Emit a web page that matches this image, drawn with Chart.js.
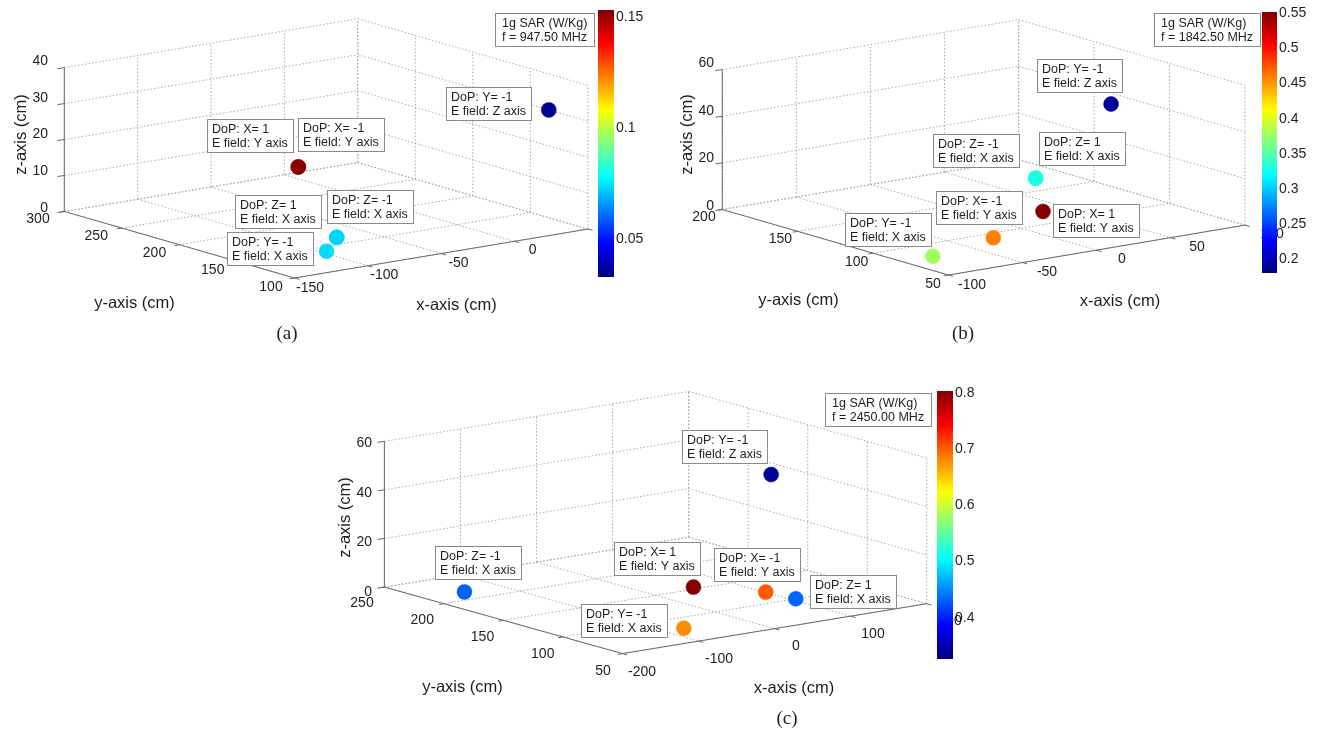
<!DOCTYPE html>
<html>
<head>
<meta charset="utf-8">
<script src="https://cdn.jsdelivr.net/npm/chart.js@4"></script>
<style>
  html, body { margin: 0; padding: 0; background: #fff; }
  #wrap { position: relative; width: 1325px; height: 733px; overflow: hidden; }
  #main { position: absolute; left: 0; top: 0; }
  .cbar { position: absolute; }
</style>
</head>
<body>
<div id="wrap">
  <canvas id="main" width="1325" height="733"></canvas>
  <canvas id="cbarA" class="cbar"></canvas>
  <canvas id="cbarB" class="cbar"></canvas>
  <canvas id="cbarC" class="cbar"></canvas>
</div>
<script>
// (a) f = 947.50 MHz
const tipsA = ['DoP: X= 1', 'DoP: X= -1', 'DoP: Y= -1', 'DoP: Z= 1', 'DoP: Z= -1', 'DoP: Y= -1'];
const fieldA = ['Y', 'Y', 'Z', 'X', 'X', 'X'];
const xA = [-36, -36, 50, -71, -71, -96];
const yA = [242, 242, 134, 164, 164, 141];
const zA = [10, 10, 30, 0, 0, 0];
const sarA = [0.150, 0.152, 0.035, 0.073, 0.073, 0.074];
const xTicksA = [-150, -100, -50, 0, 50];
const yTicksA = [100, 150, 200, 250, 300];
const zTicksA = [0, 10, 20, 30, 40];
const cTicksA = [0.05, 0.1, 0.15];
const cRangeA = [0.033, 0.153];

// (b) f = 1842.50 MHz
const tipsB = ['DoP: Y= -1', 'DoP: Z= -1', 'DoP: Z= 1', 'DoP: X= -1', 'DoP: X= 1', 'DoP: Y= -1'];
const fieldB = ['Z', 'X', 'X', 'Y', 'Y', 'X'];
const xB = [84, 80, 80, -26, 34, -79];
const yB = [123, 169, 169, 93, 119, 81];
const zB = [40, 0, 0, 0, 0, 0];
const sarB = [0.19, 0.329, 0.329, 0.459, 0.55, 0.378];
const xTicksB = [-100, -50, 0, 50, 100];
const yTicksB = [50, 100, 150, 200];
const zTicksB = [0, 20, 40, 60];
const cTicksB = [0.2, 0.25, 0.3, 0.35, 0.4, 0.45, 0.5, 0.55];
const cRangeB = [0.18, 0.552];

// (c) f = 2450.00 MHz
const tipsC = ['DoP: Y= -1', 'DoP: Z= -1', 'DoP: X= 1', 'DoP: X= -1', 'DoP: Z= 1', 'DoP: Y= -1'];
const fieldC = ['Z', 'X', 'Y', 'Y', 'X', 'X'];
const xC = [166, -148, 56, 101, 106, -74];
const yC = [159, 216, 154, 122, 100, 79];
const zC = [40, 0, 0, 0, 0, 0];
const sarC = [0.34, 0.432, 0.80, 0.702, 0.433, 0.678];
const xTicksC = [-200, -100, 0, 100, 200];
const yTicksC = [50, 100, 150, 200, 250];
const zTicksC = [0, 20, 40, 60];
const cTicksC = [0.4, 0.5, 0.6, 0.7, 0.8];
const cRangeC = [0.327, 0.803];

const freqs = ['947.50', '1842.50', '2450.00'];
const captions = ['(a)', '(b)', '(c)'];

const FONT = 'Arial, "Liberation Sans", Helvetica, sans-serif';

// view of each 3D box on the page: origin = (xmin, ymax, 0), ex/ey/ez = edge vectors
const views = [
  { o: [57, 208], ex: [297, -50], ey: [233, 68], ez: [0, -147],
    tipOff: [[-91, -48], [0, -49], [-103, -23], [-102, -42], [-10, -47], [-100, -19]],
    sarBox: [495, 13], caption: [287, 334], cbar: [598, 10, 16, 267] },
  { o: [723, 206], ex: [300, -51], ey: [229, 67], ez: [0, -143],
    tipOff: [[-74, -45], [-103, -44], [3, -46], [-57, -47], [10, -7], [-88, -43]],
    sarBox: [1154, 13], caption: [963, 334], cbar: [1262, 12, 15, 261] },
  { o: [381, 592], ex: [308, -51], ey: [241, 68], ez: [0, -149],
    tipOff: [[-89, -45], [-29, -46], [-79, -45], [-52, -44], [14, -24], [-103, -24]],
    sarBox: [825, 393], caption: [787, 719], cbar: [937, 391, 16, 268] }
];

const panels = [
  { tips: tipsA, fields: fieldA, xs: xA, ys: yA, zs: zA, sar: sarA, xt: xTicksA, yt: yTicksA, zt: zTicksA, ct: cTicksA, cr: cRangeA },
  { tips: tipsB, fields: fieldB, xs: xB, ys: yB, zs: zB, sar: sarB, xt: xTicksB, yt: yTicksB, zt: zTicksB, ct: cTicksB, cr: cRangeB },
  { tips: tipsC, fields: fieldC, xs: xC, ys: yC, zs: zC, sar: sarC, xt: xTicksC, yt: yTicksC, zt: zTicksC, ct: cTicksC, cr: cRangeC }
];

function jet(t) {
  t = Math.max(0, Math.min(1, t));
  const c = (v) => Math.round(255 * Math.max(0, Math.min(1, 1.5 - Math.abs(4 * t - v))));
  return `rgb(${c(3)},${c(2)},${c(1)})`;
}

function lims(t) {
  return [Math.min(...t), Math.max(...t)];
}

function unit(v) {
  const l = Math.hypot(v[0], v[1]);
  return [v[0] / l, v[1] / l];
}

function makeProj(p, v) {
  const xr = lims(p.xt), yr = lims(p.yt), zr = lims(p.zt);
  return (x, y, z) => {
    const a = (x - xr[0]) / (xr[1] - xr[0]);
    const b = (yr[1] - y) / (yr[1] - yr[0]);
    const c = (z - zr[0]) / (zr[1] - zr[0]);
    return {
      x: v.o[0] + a * v.ex[0] + b * v.ey[0] + c * v.ez[0],
      y: v.o[1] + a * v.ex[1] + b * v.ey[1] + c * v.ez[1]
    };
  };
}

// dotted grid on the back wall, right wall and floor
function gridSegs(p, P) {
  const [x0, x1] = lims(p.xt), [y0, y1] = lims(p.yt), [z0, z1] = lims(p.zt);
  const segs = [];
  p.xt.forEach(x => {
    segs.push([P(x, y1, z0), P(x, y1, z1)]);
    segs.push([P(x, y1, z0), P(x, y0, z0)]);
  });
  p.yt.forEach(y => {
    segs.push([P(x1, y, z0), P(x1, y, z1)]);
    segs.push([P(x0, y, z0), P(x1, y, z0)]);
  });
  p.zt.forEach(z => {
    segs.push([P(x0, y1, z), P(x1, y1, z)]);
    segs.push([P(x1, y1, z), P(x1, y0, z)]);
  });
  return segs;
}

// solid x, y, z axes with outward tick marks
function axisSegs(p, P, v) {
  const [x0, x1] = lims(p.xt), [y0, y1] = lims(p.yt), [z0, z1] = lims(p.zt);
  const segs = [
    [P(x0, y1, z0), P(x0, y0, z0)],
    [P(x0, y0, z0), P(x1, y0, z0)],
    [P(x0, y1, z0), P(x0, y1, z1)]
  ];
  const ux = unit(v.ex), uy = unit(v.ey);
  p.zt.forEach(z => { const a = P(x0, y1, z); segs.push([a, { x: a.x - 7, y: a.y + 1 }]); });
  p.yt.forEach(y => { const a = P(x0, y, z0); segs.push([a, { x: a.x - 5 * ux[0], y: a.y - 5 * ux[1] }]); });
  p.xt.forEach(x => { const a = P(x, y0, z0); segs.push([a, { x: a.x + 5 * uy[0], y: a.y + 5 * uy[1] }]); });
  return segs;
}

function flatten(segs) {
  const out = [];
  segs.forEach(s => { out.push(s[0], s[1], { x: null, y: null }); });
  return out;
}

function drawBox(ctx, x, y, lines, pad) {
  ctx.font = `12.5px ${FONT}`;
  const w = Math.round(Math.max(...lines.map(s => ctx.measureText(s).width)) + 2 * pad);
  const h = 33;
  x = Math.round(x); y = Math.round(y);
  ctx.fillStyle = '#fff';
  ctx.fillRect(x, y, w, h);
  ctx.strokeStyle = '#8a8a8a';
  ctx.lineWidth = 1;
  ctx.strokeRect(x + 0.5, y + 0.5, w, h);
  ctx.fillStyle = '#1e1e1e';
  ctx.textAlign = 'left';
  ctx.textBaseline = 'alphabetic';
  lines.forEach((s, i) => ctx.fillText(s, x + pad, y + 14 + i * 14));
}

const datasets = [];
panels.forEach((p, k) => {
  const v = views[k];
  const P = makeProj(p, v);
  p.P = P;
  datasets.push({
    data: flatten(gridSegs(p, P)), showLine: true, borderColor: '#a8a8a8',
    borderWidth: 1, borderDash: [1.5, 2], pointRadius: 0, order: 3
  });
  datasets.push({
    data: flatten(axisSegs(p, P, v)), showLine: true, borderColor: '#6a6a6a',
    borderWidth: 1, pointRadius: 0, order: 2
  });
  const cols = p.sar.map(s => jet((s - p.cr[0]) / (p.cr[1] - p.cr[0])));
  p.dsIndex = datasets.length;
  datasets.push({
    data: p.xs.map((x, j) => P(x, p.ys[j], p.zs[j])),
    pointRadius: 7.5, pointBackgroundColor: cols, pointBorderColor: cols,
    pointBorderWidth: 0.5, showLine: false, order: 1
  });
});

const annotPlugin = {
  id: 'annot',
  afterDatasetsDraw(chart) {
    const ctx = chart.ctx;
    ctx.save();
    panels.forEach((p, k) => {
      const v = views[k], P = p.P;
      const [x0, x1] = lims(p.xt), [y0, y1] = lims(p.yt), [z0, z1] = lims(p.zt);

      // tick labels
      ctx.font = `14px ${FONT}`;
      ctx.fillStyle = '#1e1e1e';
      ctx.textBaseline = 'middle';
      ctx.textAlign = 'right';
      p.zt.forEach(z => { const a = P(x0, y1, z); ctx.fillText(String(z), a.x - 9, a.y); });
      ctx.textAlign = 'center';
      p.yt.forEach(y => { const a = P(x0, y, z0); ctx.fillText(String(y), a.x - 19, a.y + 11); });
      p.xt.forEach(x => { const a = P(x, y0, z0); ctx.fillText(String(x), a.x + 20, a.y + 12); });

      // axis titles
      ctx.font = `16.5px ${FONT}`;
      const ym = P(x0, (y0 + y1) / 2, z0);
      ctx.fillText('y-axis (cm)', ym.x - 39, ym.y + 61);
      const xm = P((x0 + x1) / 2, y0, z0);
      ctx.fillText('x-axis (cm)', xm.x + 18, xm.y + 54);
      const zm = P(x0, y1, (z0 + z1) / 2);
      ctx.save();
      ctx.translate(zm.x - 36, zm.y);
      ctx.rotate(-Math.PI / 2);
      ctx.fillText('z-axis (cm)', 0, 0);
      ctx.restore();

      // caption
      ctx.font = `19px "Liberation Serif", "Times New Roman", serif`;
      ctx.fillText(captions[k], v.caption[0], v.caption[1]);

      // data tips
      const meta = chart.getDatasetMeta(p.dsIndex);
      p.tips.forEach((t, j) => {
        const pt = meta.data[j];
        drawBox(ctx, pt.x + v.tipOff[j][0], pt.y + v.tipOff[j][1], [t, `E field: ${p.fields[j]} axis`], 5);
      });

      // SAR legend box
      drawBox(ctx, v.sarBox[0], v.sarBox[1], ['1g SAR (W/Kg)', `f = ${freqs[k]} MHz`], 7);
    });
    ctx.restore();
  }
};

new Chart(document.getElementById('main'), {
  type: 'scatter',
  data: { datasets },
  options: {
    responsive: false,
    animation: false,
    events: [],
    layout: { padding: 0 },
    plugins: { legend: { display: false }, tooltip: { enabled: false } },
    scales: {
      x: { type: 'linear', min: 0, max: 1325, display: false },
      y: { type: 'linear', min: 0, max: 733, reverse: true, display: false }
    }
  },
  plugins: [annotPlugin]
});

function jetGradient(chart) {
  const a = chart.chartArea;
  if (!a) return '#000080';
  const g = chart.ctx.createLinearGradient(0, a.bottom, 0, a.top);
  for (let i = 0; i <= 32; i++) g.addColorStop(i / 32, jet(i / 32));
  return g;
}

function makeColorbar(id, p, v) {
  const [bx, by, bw, bh] = v.cbar;
  const padV = 12, axisW = 44;
  const el = document.getElementById(id);
  el.width = bw + axisW;
  el.height = bh + 2 * padV;
  el.style.width = el.width + 'px';
  el.style.height = el.height + 'px';
  el.style.left = bx + 'px';
  el.style.top = (by - padV) + 'px';
  new Chart(el, {
    type: 'bar',
    data: {
      labels: [''],
      datasets: [{
        data: [[p.cr[0], p.cr[1]]],
        backgroundColor: (c) => jetGradient(c.chart),
        borderWidth: 0,
        barPercentage: 1,
        categoryPercentage: 1
      }]
    },
    options: {
      responsive: false,
      animation: false,
      events: [],
      layout: { padding: { top: padV, bottom: padV, left: 0, right: 0 } },
      plugins: { legend: { display: false }, tooltip: { enabled: false } },
      scales: {
        x: { display: false },
        y: {
          position: 'right',
          min: p.cr[0],
          max: p.cr[1],
          afterBuildTicks: (s) => { s.ticks = p.ct.map(t => ({ value: t })); },
          afterFit: (s) => { s.width = axisW; },
          grid: { display: false, drawTicks: false },
          border: { display: false },
          ticks: {
            padding: 2,
            color: '#1e1e1e',
            font: { family: FONT, size: 14 },
            callback: (val) => String(val)
          }
        }
      }
    }
  });
}

makeColorbar('cbarA', panels[0], views[0]);
makeColorbar('cbarB', panels[1], views[1]);
makeColorbar('cbarC', panels[2], views[2]);
</script>
</body>
</html>
